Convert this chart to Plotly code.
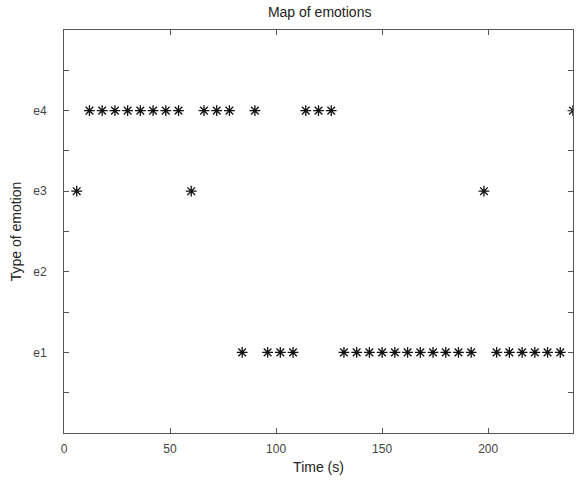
import plotly.graph_objects as go

time_s = [6, 12, 18, 24, 30, 36, 42, 48, 54, 60,
          66, 72, 78, 84, 90, 96, 102, 108, 114, 120,
          126, 132, 138, 144, 150, 156, 162, 168, 174, 180,
          186, 192, 198, 204, 210, 216, 222, 228, 234, 240]
emotion = [3, 4, 4, 4, 4, 4, 4, 4, 4, 3,
           4, 4, 4, 1, 4, 1, 1, 1, 4, 4,
           4, 1, 1, 1, 1, 1, 1, 1, 1, 1,
           1, 1, 3, 1, 1, 1, 1, 1, 1, 4]

y_tickvals = [0.5, 1, 1.5, 2, 2.5, 3, 3.5, 4, 4.5]
y_ticktext = ["", "e1", "", "e2", "", "e3", "", "e4", ""]
x_tickvals = [0, 50, 100, 150, 200]

fig = go.Figure()
fig.add_trace(go.Scatter(
    x=time_s, y=emotion, mode="markers",
    marker=dict(symbol="asterisk-open", size=9, color="#111111",
                line=dict(color="#111111", width=1.3)),
    cliponaxis=True, showlegend=False,
))

axis_common = dict(
    showline=True, linecolor="#555555", linewidth=1, mirror="ticks",
    ticks="inside", ticklen=5, tickcolor="#555555", showgrid=False,
    zeroline=False, automargin=False,
    tickfont=dict(family="Liberation Sans, Arial", size=12, color="#444444"),
)

fig.update_layout(
    width=576, height=485,
    margin=dict(l=64, r=3, t=30, b=52),
    paper_bgcolor="white", plot_bgcolor="white",
    font=dict(family="Liberation Sans, Arial", size=12, color="#222222"),
    title=dict(text="Map of emotions", x=0.555, xanchor="center", y=0.975, yanchor="middle",
               font=dict(size=14, color="#222222")),
    xaxis=dict(range=[0, 240], tickvals=x_tickvals, ticklabelstandoff=5,
               title=dict(text="Time (s)", font=dict(size=14), standoff=6), **axis_common),
    yaxis=dict(range=[0, 5], tickvals=y_tickvals, ticktext=y_ticktext, ticklabelstandoff=14,
               title=dict(text="Type of emotion", font=dict(size=14), standoff=8), **axis_common),
)

fig.write_html("out.html", config={"displayModeBar": False},
               post_script="document.body.style.margin='0';document.body.style.overflow='hidden';")
